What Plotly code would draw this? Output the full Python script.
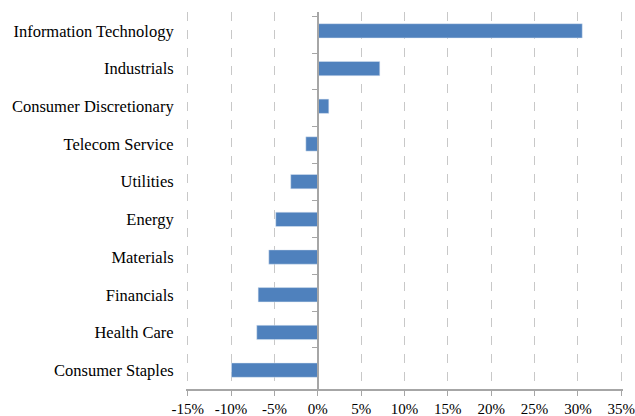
import plotly.graph_objects as go

sectors = ["Information Technology", "Industrials", "Consumer Discretionary",
           "Telecom Service", "Utilities", "Energy", "Materials",
           "Financials", "Health Care", "Consumer Staples"]
returns = [30.5, 7.15, 1.27, -1.38, -3.12, -4.85, -5.65, -6.88, -7.04, -9.96]
tick_vals = [-15, -10, -5, 0, 5, 10, 15, 20, 25, 30, 35]
tick_text = [f"{v}%" for v in tick_vals]

AXIS = "#a6a6a6"
YFONT = dict(family="Liberation Serif", size=16.5, color="#000000")
XFONT = dict(family="Liberation Serif", size=15, color="#000000")
X_RANGE = [-15.2, 35.2]

fig = go.Figure()
fig.add_trace(go.Bar(x=returns, y=sectors, orientation="h",
                     marker=dict(color="#4F81BD", line=dict(color="#dce6f2", width=0.5)),
                     hoverinfo="skip"))
fig.add_trace(go.Scatter(x=returns, y=sectors, yaxis="y2", mode="markers",
                         marker=dict(opacity=0), hoverinfo="skip", showlegend=False))

fig.update_layout(
    width=635, height=416,
    margin=dict(l=186, r=12, t=12, b=27, autoexpand=False),
    paper_bgcolor="white", plot_bgcolor="white",
    showlegend=False, bargap=0.62,
    font=YFONT,
    xaxis=dict(range=X_RANGE, domain=[0, 1], tickmode="array", tickvals=tick_vals,
               ticktext=tick_text, showgrid=True, gridcolor="#c8c8c8", griddash="dash",
               gridwidth=1, zeroline=False, showline=True, linecolor=AXIS, linewidth=1.5,
               ticks="outside", ticklen=5, tickcolor=AXIS, tickfont=XFONT, automargin=False,
               ticklabeloverflow="allow"),
    yaxis=dict(type="category", categoryorder="array", categoryarray=sectors,
               autorange="reversed", showgrid=False, zeroline=False, showline=False,
               ticks="outside", ticklen=8, tickcolor="rgba(0,0,0,0)", tickfont=YFONT,
               automargin=False),
    yaxis2=dict(type="category", categoryorder="array", categoryarray=sectors,
                autorange="reversed", overlaying="y", anchor="free",
                position=(0 - X_RANGE[0]) / (X_RANGE[1] - X_RANGE[0]),
                side="left", showticklabels=False, showgrid=False, zeroline=False,
                showline=True, linecolor=AXIS, linewidth=1.5, ticks="outside",
                tickson="boundaries", ticklen=5, tickcolor=AXIS, automargin=False),
)

fig.write_html("out.html", config={"displayModeBar": False},
               post_script="document.body.style.margin='0';document.body.style.overflow='hidden';")
